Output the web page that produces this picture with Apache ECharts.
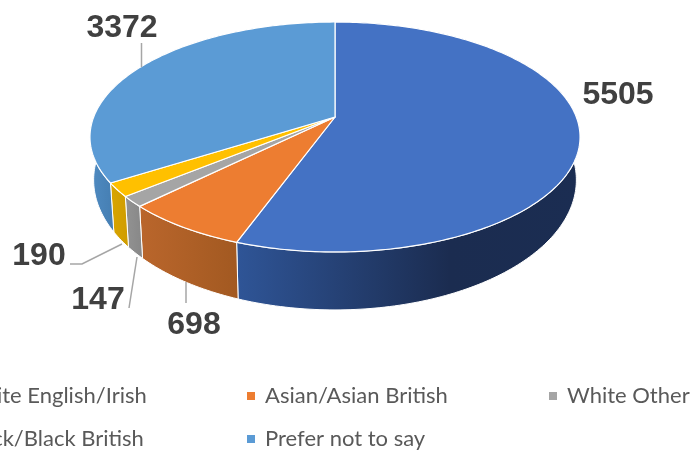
<!DOCTYPE html>
<html>
<head>
<meta charset="utf-8">
<title>3D pie</title>
<script src="https://cdn.jsdelivr.net/npm/echarts@6/dist/echarts.min.js"></script>
<style>
  html, body { margin: 0; padding: 0; background: #fff; overflow: hidden; }
  #myChart { width: 691px; height: 452px; }
</style>
</head>
<body>
<div id="myChart"></div>
<script>
// chart data
var categories = ['White English/Irish', 'Asian/Asian British', 'White Other', 'Black/Black British', 'Prefer not to say'];
var values = [5505, 698, 147, 190, 3372];

// styles
var topColors = ['#4472C4', '#ED7D31', '#A5A5A5', '#FFC000', '#5B9BD5'];
var sideStops = [
  [[0, '#2f5597'], [0.62, '#1b2c50'], [1, '#1b2d52']],
  [[0, '#ba662c'], [1, '#a25921']],
  [[0, '#939393'], [1, '#878787']],
  [[0, '#d9a500'], [1, '#cf9c00']],
  [[0, '#4f8bc2'], [0.1, '#457eb2'], [1, '#3f74a5']]
];

// hand placed labels and their leader lines, same order as categories
var labelPos = [[618, 95], [194, 325], [98, 300], [39, 256], [122, 28]];
var leaders = [
  null,
  [[186, 282], [186, 303]],
  [[137, 257], [129, 308]],
  [[122, 244], [82, 264], [70, 264]],
  [[141.5, 67], [141.5, 43]]
];

// pie projection: tilted disc, apex sits above the centre of the rim ellipse
var CX = 335, APEX_Y = 117, A = 241.3, B = 111.5, K = 0.1739;
var RIM_CY = 137, BASE_CY = 180, BASE_SX = 0.985, BASE_SY = 1.13;

function rim(deg) {
  var t = deg * Math.PI / 180;
  var u = Math.sin(t), v = -Math.cos(t), d = 1 - K * v;
  return [CX + A * u / d, APEX_Y + B * v / d];
}
function base(p) {
  return [CX + (p[0] - CX) * BASE_SX, BASE_CY + (p[1] - RIM_CY) * BASE_SY];
}

var total = values.reduce(function (a, b) { return a + b; }, 0);
var running = 0;

var series = categories.map(function (name, i) {
  var from = running;
  running += values[i];
  return {
    name: name,
    type: 'custom',
    coordinateSystem: 'none',
    silent: true,
    animation: false,
    itemStyle: { color: topColors[i] },
    data: [[from, running, values[i]]],
    renderItem: function (params, api) {
      var a0 = api.value(0) / total * 360;
      var a1 = api.value(1) / total * 360;
      var rimPts = [];
      for (var a = a0; a < a1; a += 1) rimPts.push(rim(a));
      rimPts.push(rim(a1));
      var sidePts = rimPts.concat(rimPts.map(base).reverse());
      var children = [
        {
          type: 'polygon', z2: 1,
          shape: { points: sidePts },
          style: {
            fill: new echarts.graphic.LinearGradient(0, 0, 1, 0, sideStops[i].map(function (s) {
              return { offset: s[0], color: s[1] };
            })),
            stroke: '#fff', lineWidth: 1, lineJoin: 'round'
          }
        },
        {
          type: 'polygon', z2: 2,
          shape: { points: [[CX, APEX_Y]].concat(rimPts) },
          style: { fill: topColors[i], stroke: '#fff', lineWidth: 1.2, lineJoin: 'round' }
        },
        {
          type: 'text', z2: 4,
          style: {
            text: String(api.value(2)),
            x: labelPos[i][0], y: labelPos[i][1],
            align: 'center', verticalAlign: 'middle',
            font: 'bold 32px "Liberation Sans", Arial, sans-serif',
            fill: '#404040'
          }
        }
      ];
      if (leaders[i]) {
        children.push({
          type: 'polyline', z2: 3,
          shape: { points: leaders[i] },
          style: { stroke: '#A6A6A6', lineWidth: 1.5, fill: null }
        });
      }
      return { type: 'group', children: children };
    }
  };
});

function legendCol(names, left) {
  return {
    data: names,
    orient: 'vertical',
    left: left,
    top: 380,
    height: 120,
    icon: 'rect',
    itemWidth: 8,
    itemHeight: 8,
    itemGap: 21,
    selectedMode: false,
    textStyle: { fontFamily: 'Lato', fontSize: 22, color: '#595959', padding: [0, 0, 0, 5] }
  };
}

var option = {
  animation: false,
  color: topColors,
  legend: [
    legendCol([categories[0], categories[3]], -61),
    legendCol([categories[1], categories[4]], 242),
    legendCol([categories[2]], 544)
  ],
  series: series
};

var myChart = echarts.init(document.getElementById('myChart'));
myChart.setOption(option);
</script>
</body>
</html>
